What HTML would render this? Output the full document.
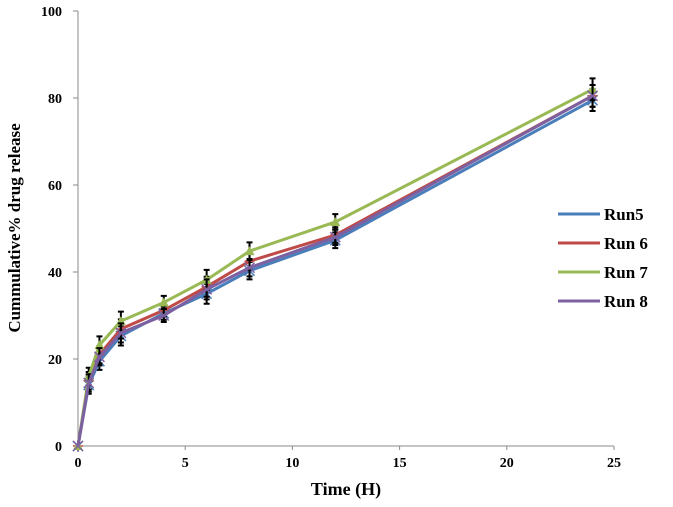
<!DOCTYPE html>
<html><head><meta charset="utf-8"><style>
body{margin:0;background:#fff;width:673px;height:502px;overflow:hidden}
svg{font-family:"Liberation Serif",serif}
</style></head><body>
<svg id="chart" width="673" height="502" xmlns="http://www.w3.org/2000/svg">
<g id="axes"></g>
<g id="series"></g>
<text x="346" y="495" text-anchor="middle" font-weight="bold" font-size="18">Time (H)</text>
<text transform="translate(20,228) rotate(-90)" text-anchor="middle" font-weight="bold" font-size="17">Cummulative% drug release</text>
<g id="legend"></g>
</svg>
<script>
const times = [0, 0.5, 1, 2, 4, 6, 8, 12, 24];
const seriesNames = ["Run5", "Run 6", "Run 7", "Run 8"];
const run5 = [0, 14, 19.5, 25.3, 30.5, 35, 40.3, 47.3, 79.5];
const run6 = [0, 15, 21, 26.9, 31.2, 36.6, 42.5, 48.5, 80.5];
const run7 = [0, 16, 23.2, 28.7, 33, 38.2, 44.8, 51.5, 82];
const run8 = [0, 14.5, 20.5, 26, 30, 36, 41, 48, 80.5];
const errs = [0, 2, 2, 2.2, 1.5, 2.3, 2, 1.8, 2.5];
const xTicks = [0, 5, 10, 15, 20, 25];
const yTicks = [0, 20, 40, 60, 80, 100];
const colors = ["#4a7ebb", "#be4b48", "#98b954", "#7d60a0"];
const NS = "http://www.w3.org/2000/svg";
const X = v => 78 + v * (614 - 78) / 25;
const Y = v => 446 - v * 4.35;
function mk(tag, attrs, parent) { const e = document.createElementNS(NS, tag); for (const k in attrs) e.setAttribute(k, attrs[k]); parent.appendChild(e); return e; }
const axes = document.getElementById("axes");
let a = mk("line", {x1: 78, y1: Y(100), x2: 78, y2: 446, stroke: "#888", "stroke-width": 1}, axes);


a = mk("line", {x1: 78, y1: 446, x2: 614, y2: 446, stroke: "#888", "stroke-width": 1}, axes);


xTicks.forEach(t => {
  mk("line", {x1: X(t), y1: 446, x2: X(t), y2: 450, stroke: "#888"}, axes);
  const tx = mk("text", {x: X(t), y: 467, "text-anchor": "middle", "font-size": 14, "font-weight": "bold"}, axes);
  tx.textContent = t;
  
  
});
yTicks.forEach(t => {
  mk("line", {x1: 73, y1: Y(t), x2: 78, y2: Y(t), stroke: "#888"}, axes);
  const tx = mk("text", {x: 62, y: Y(t) + 5, "text-anchor": "end", "font-size": 14, "font-weight": "bold"}, axes);
  tx.textContent = t;
  
  
});
const sg = document.getElementById("series");
const all = [run5, run6, run7, run8];
all.forEach((vals, si) => {
  const g = mk("g", {}, sg);
  
  
  vals.forEach((v, i) => {
    if (!errs[i]) return;
    const x = X(times[i]);
    mk("path", {d: `M${x},${Y(v+errs[i])}V${Y(v-errs[i])}M${x-3},${Y(v+errs[i])}h6M${x-3},${Y(v-errs[i])}h6`, stroke: "#000", "stroke-width": 2, fill: "none"}, g);
  });
  const pl = mk("polyline", {points: vals.map((v, i) => X(times[i]) + "," + Y(v)).join(" "), fill: "none", stroke: colors[si], "stroke-width": 3}, g);
  
  
  vals.forEach((v, i) => {
    const x = X(times[i]), y = Y(v);
    let m;
    if (si === 2) m = mk("path", {d: `M${x},${y-5}L${x+5},${y+4}L${x-5},${y+4}Z`, fill: colors[si]}, g);
    else if (si === 1) m = mk("path", {d: `M${x-5},${y}h10M${x},${y-5}v10`, stroke: colors[si], "stroke-width": 1.5}, g);
    else m = mk("path", {d: `M${x-5},${y-5}l10,10M${x+5},${y-5}l-10,10` + (si === 0 ? `M${x},${y-6}v12` : ''), stroke: colors[si], "stroke-width": 1.5}, g);
    
    
  });
});
const lg = document.getElementById("legend");
seriesNames.forEach((n, i) => {
  const y = 214 + i * 29;
  const g = mk("g", {}, lg);
  
  
  mk("line", {x1: 558, y1: y, x2: 600, y2: y, stroke: colors[i], "stroke-width": 3}, g);
  const t = mk("text", {x: 604, y: y + 6, "font-size": 17, "font-weight": "bold"}, g);
  t.textContent = n;
});
</script>
</body></html>
